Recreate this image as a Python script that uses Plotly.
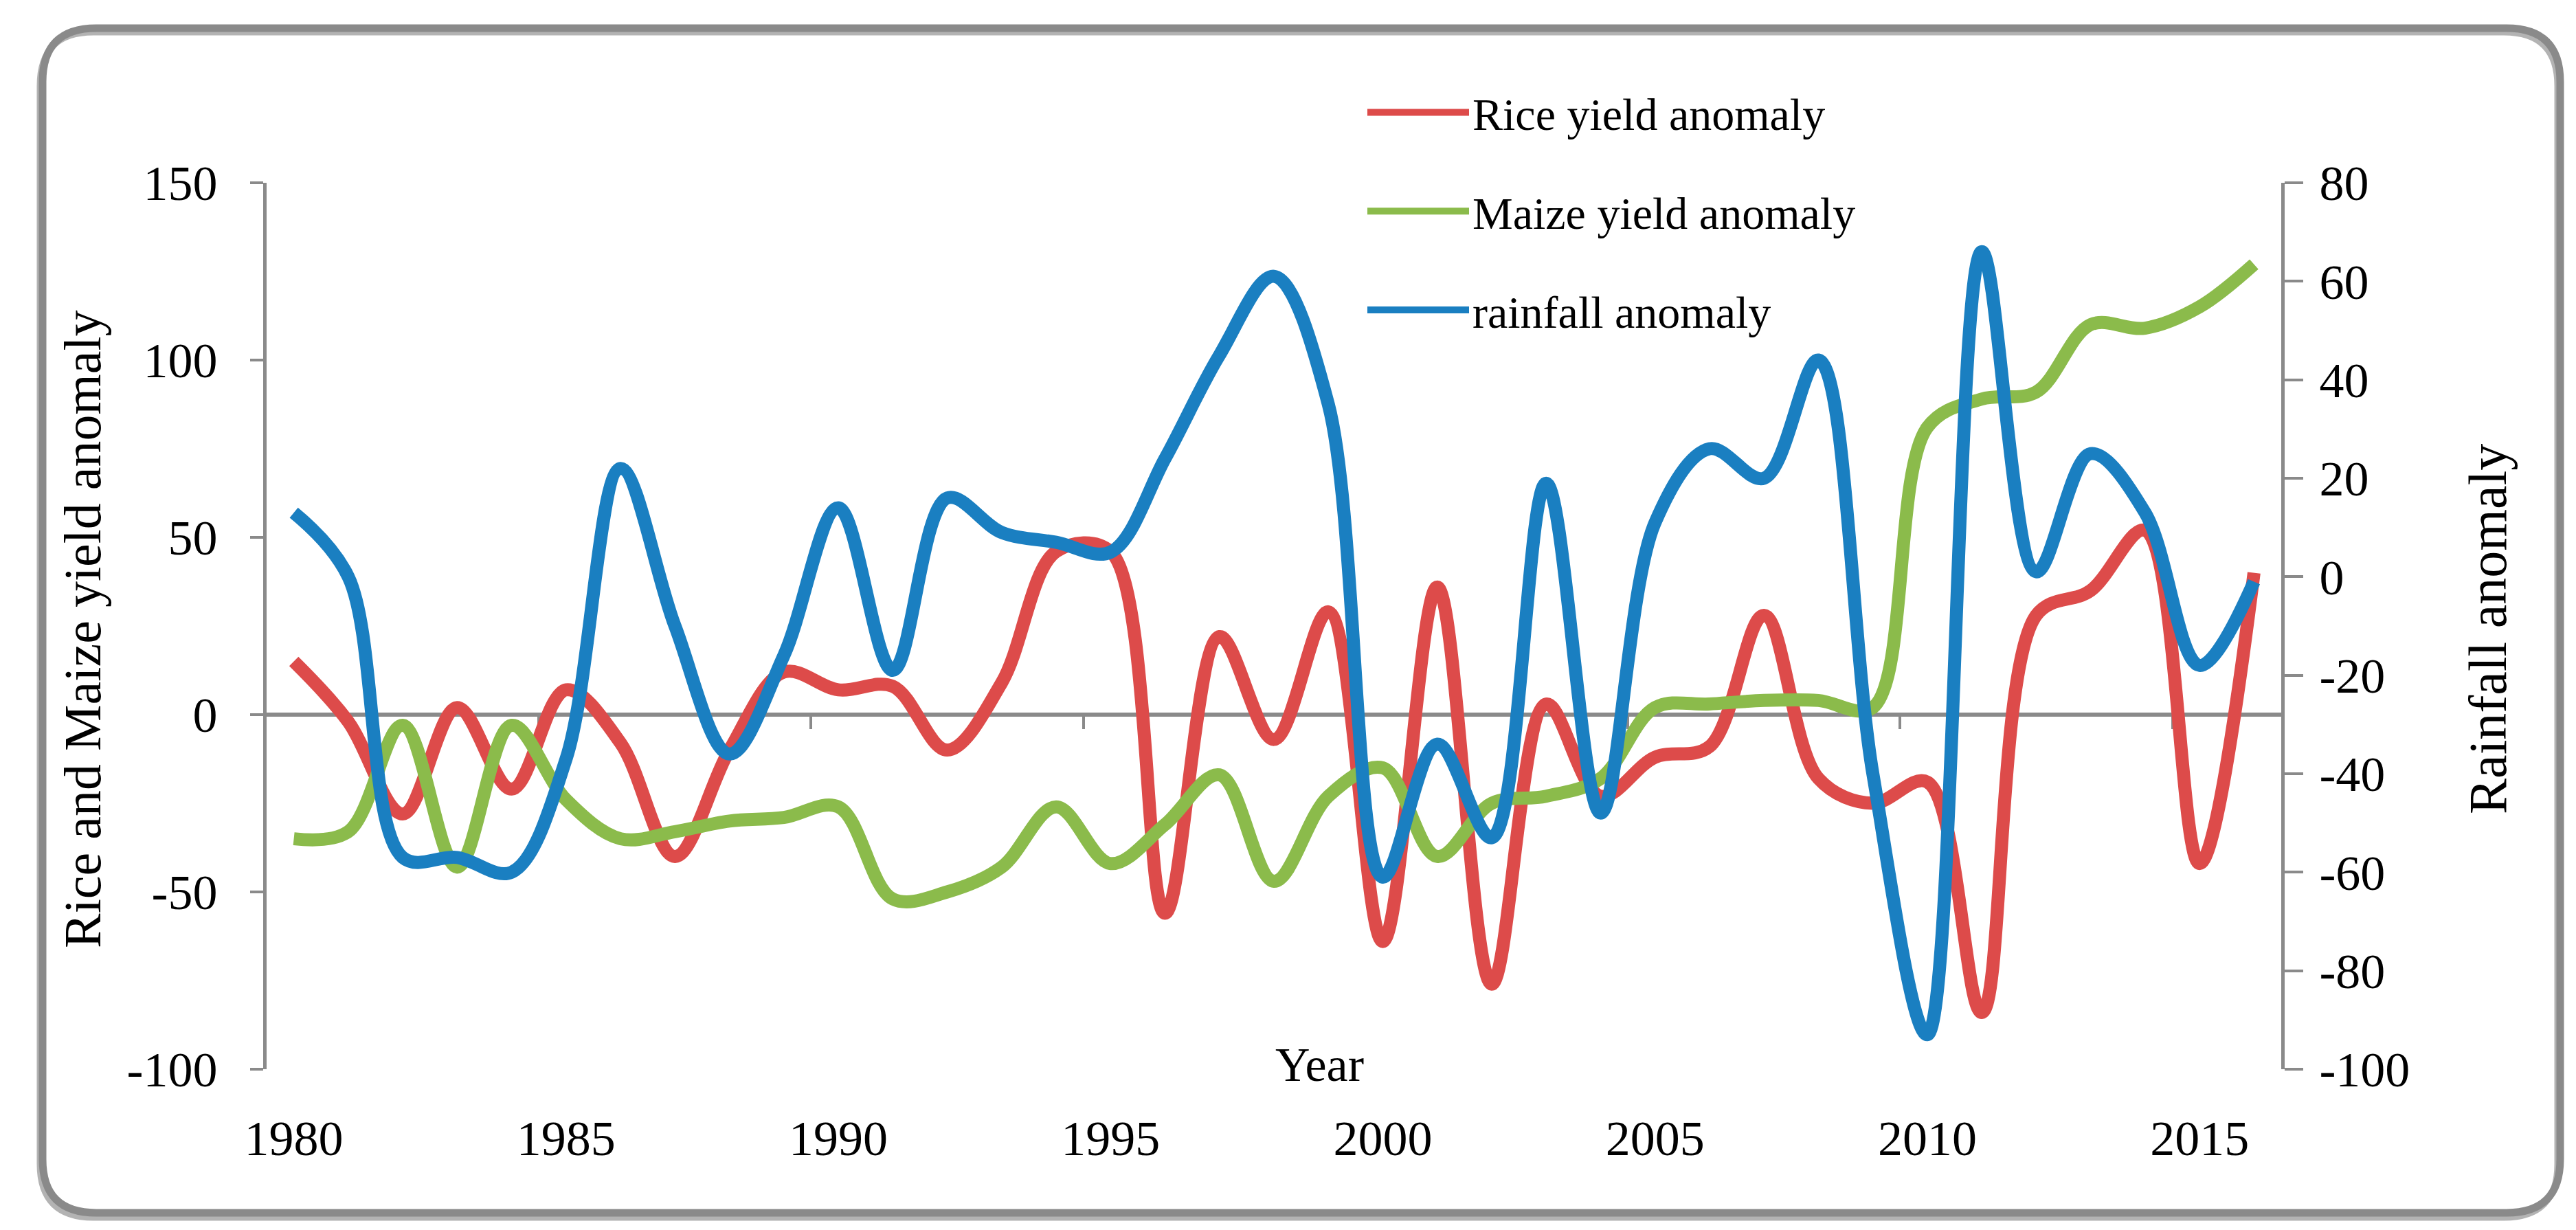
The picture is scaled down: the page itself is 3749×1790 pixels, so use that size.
import plotly.graph_objects as go

# yearly anomalies (Excel smoothed lines)
years = list(range(1980, 2017))

rice = [15, -2, -28, 2, -21, 7, -8, -40, -10, 12,
        7, 8, -10, 9, 46, 46, -56, 22, -7, 29,
        -64, 36, -76, 3, -23, -12, -9, 28, -18, -25,
        -19, -84, 28, 35, 52, -42, 40]

maize = [-35, -33, -3, -43, -3, -24, -35, -33, -30, -29,
         -26, -52, -50, -43, -26, -42, -31, -17, -47, -23,
         -15, -40, -25, -23, -18, 2, 3, 4, 4, 2,
         81, 89, 91, 110, 109, 115, 127]

rainfall = [13, 0, -57, -57, -60, -37, 22, -10, -36, -16,
            14, -19, 16, 9, 7, 5, 24, 45, 61, 35,
            -61, -34, -53, 19, -48, 11, 26, 20, 44, -40,
            -93, 66, 1, 25, 13, -18, -1]

x_ticks = [1980, 1985, 1990, 1995, 2000, 2005, 2010, 2015]
x_marks = [1984.5, 1989.5, 1994.5, 1999.5, 2004.5, 2009.5, 2014.5]
left_ticks = [-100, -50, 0, 50, 100, 150]
left_text = ["-100", "-50", "0", "50", "100", "150"]
right_ticks = [-100, -80, -60, -40, -20, 0, 20, 40, 60, 80]
right_text = ["-100", "-80", "-60", "-40", "-20", "0", "20", "40", "60", "80"]

W, H = 3749, 1790
L, R, T, B = 380, 437, 258, 242
PW, PH = W - L - R, H - T - B

FONT = "Liberation Serif, Times New Roman, serif"
GRAY = "#8a8a8a"


def px(x):
    return (x - L) / PW


def py(y):
    return (H - B - y) / PH


def rounded_box(x0, y0, x1, y1, r):
    pts = [
        ("M", (x0 + r, y0)), ("L", (x1 - r, y0)), ("Q", (x1, y0), (x1, y0 + r)),
        ("L", (x1, y1 - r)), ("Q", (x1, y1), (x1 - r, y1)),
        ("L", (x0 + r, y1)), ("Q", (x0, y1), (x0, y1 - r)),
        ("L", (x0, y0 + r)), ("Q", (x0, y0), (x0 + r, y0)),
    ]
    out = []
    for p in pts:
        cmd = p[0]
        coords = " ".join(f"{px(a):.5f},{py(b):.5f}" for a, b in p[1:])
        out.append(f"{cmd} {coords}")
    return " ".join(out) + " Z"


fig = go.Figure()

fig.add_trace(go.Scatter(
    x=years, y=rice, name="Rice yield anomaly", mode="lines",
    line=dict(color="#dd4b4a", width=19, shape="spline", smoothing=1),
    legendgroup="a"))
fig.add_trace(go.Scatter(
    x=years, y=maize, name="Maize yield anomaly", mode="lines",
    line=dict(color="#8bbb4b", width=19, shape="spline", smoothing=1),
    legendgroup="b"))
fig.add_trace(go.Scatter(
    x=years, y=rainfall, name="rainfall anomaly", mode="lines", yaxis="y2",
    line=dict(color="#1a7fc1", width=19, shape="spline", smoothing=1),
    legendgroup="c"))
# empty trace so the zero-line axis is drawn
fig.add_trace(go.Scatter(x=[None], y=[None], xaxis="x2", showlegend=False,
                         hoverinfo="skip"))

axis_common = dict(
    showgrid=False, zeroline=False, showline=True, linecolor=GRAY, linewidth=5,
    ticks="outside", tickcolor=GRAY, tickwidth=4,
    tickfont=dict(family=FONT, size=72, color="black"),
)

fig.update_layout(
    width=W, height=H, autosize=False,
    margin=dict(l=L, r=R, t=T, b=B),
    paper_bgcolor="white", plot_bgcolor="white",
    font=dict(family=FONT, color="black"),
    xaxis=dict(range=[1979.5, 2016.5], tickvals=x_ticks, ticks="",
               showgrid=False, zeroline=False, showline=False,
               tickfont=dict(family=FONT, size=72, color="black"),
               ticklabelstandoff=52),
    xaxis2=dict(range=[1979.5, 2016.5], overlaying="x", anchor="free",
                position=0.4, tickvals=x_marks, ticks="outside", ticklen=18,
                tickwidth=4, tickcolor=GRAY, showline=True, linecolor=GRAY,
                linewidth=6, showticklabels=False, showgrid=False,
                zeroline=False, layer="below traces"),
    yaxis=dict(range=[-100, 150], tickvals=left_ticks, ticktext=left_text,
               ticklen=19, ticklabelstandoff=33, **axis_common),
    yaxis2=dict(range=[-100, 80], tickvals=right_ticks, ticktext=right_text,
                overlaying="y", side="right", ticklen=27,
                ticklabelstandoff=9, **axis_common),
    legend=dict(x=px(1977), y=py(106), xanchor="left", yanchor="top",
                bgcolor="rgba(0,0,0,0)", itemwidth=148, tracegroupgap=55,
                font=dict(family=FONT, size=66, color="black")),
    showlegend=True,
)

fig.add_annotation(text="Rice and Maize yield anomaly", textangle=-90,
                   x=px(112), y=py(908), xref="paper", yref="paper",
                   xanchor="center", yanchor="middle",
                   showarrow=False, font=dict(family=FONT, size=76))
fig.add_annotation(text="Rainfall anomaly", textangle=-90,
                   x=px(3612), y=py(908), xref="paper", yref="paper",
                   xanchor="center", yanchor="middle",
                   showarrow=False, font=dict(family=FONT, size=78))
fig.add_annotation(text="Year", x=px(1912), y=py(1541), xref="paper",
                   yref="paper", xanchor="center", yanchor="middle",
                   showarrow=False, font=dict(family=FONT, size=70))

# rounded frame with a soft shadow, as in the exported Excel chart
fig.add_shape(type="path", xref="paper", yref="paper", layer="above",
              path=rounded_box(50, 39, 3714, 1764, 78),
              line=dict(color="#b3b3b3", width=9))
fig.add_shape(type="path", xref="paper", yref="paper", layer="above",
              path=rounded_box(54, 33, 3718, 1757, 78),
              line=dict(color=GRAY, width=11))

fig.write_html("out.html")
